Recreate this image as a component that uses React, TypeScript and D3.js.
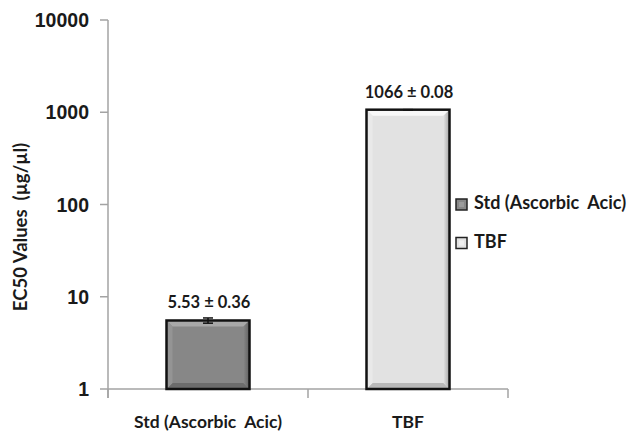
import * as d3 from 'd3'

// chart data
const categories = ['Std (Ascorbic  Acic)', 'TBF']
const values = [5.53, 1066]
const errors = [0.36, 0.08]
const valueLabels = ['5.53 ± 0.36', '1066 ± 0.08']
const yTicks = [1, 10, 100, 1000, 10000]

const BAR_FILL = ['#878787', '#e2e2e2']
const BEVEL = [
  { top: '#a8a8a8', left: '#949494', right: '#606060', bottom: '#6c6c6c' },
  { top: '#f8f8f8', left: '#e9e9e9', right: '#a4a4a4', bottom: '#b8b8b8' },
]

const W = 631
const H = 432
const LABEL_FONT = 'Lato, "Open Sans", sans-serif'

export default function App() {
  const x = d3.scaleBand<string>()
    .domain(categories)
    .range([108, 508])
    .paddingInner(0.585)
    .paddingOuter(0.2925)

  const y = d3.scaleLog()
    .domain([1, 10000])
    .range([389, 20])

  const axisColor = '#a3a3a3'
  const bw = x.bandwidth()
  const b = 6 // bevel width

  return (
    <svg width={W} height={H} style={{ position: 'absolute', left: 0, top: 0, background: '#fff' }}>
      <defs>
        {categories.map((c, i) => (
          <linearGradient key={c} id={`side${i}`} x1="0" x2="1" y1="0" y2="0">
            <stop offset="0" stopColor={BAR_FILL[i]} />
            <stop offset="1" stopColor={BEVEL[i].right} />
          </linearGradient>
        ))}
      </defs>

      {/* y axis */}
      <line x1={108} x2={108} y1={y(10000)} y2={398} stroke={axisColor} strokeWidth={1.5} />
      {yTicks.map(t => (
        <g key={t}>
          <line x1={100} x2={108} y1={y(t)} y2={y(t)} stroke={axisColor} strokeWidth={1.5} />
          <text x={89} y={y(t) + 7} textAnchor="end" fontFamily='"Liberation Sans", Arial, sans-serif'
            fontWeight="bold" fontSize={19.5} fill="#1a1a1a">{t}</text>
        </g>
      ))}

      {/* x axis */}
      <line x1={108} x2={508} y1={389} y2={389} stroke={axisColor} strokeWidth={1.5} />
      {[108, 308, 508].map(v => (
        <line key={v} x1={v} x2={v} y1={389} y2={398} stroke={axisColor} strokeWidth={1.5} />
      ))}
      {categories.map(c => (
        <text key={c} x={x(c)! + bw / 2} y={428} textAnchor="middle" fontFamily={LABEL_FONT}
          fontWeight="bold" fontSize={17.5} fill="#1a1a1a" style={{ whiteSpace: 'pre' }}>{c}</text>
      ))}

      {/* y title */}
      <text transform="rotate(-90)" x={-227} y={27} textAnchor="middle" fontFamily={LABEL_FONT}
        fontWeight="bold" fontSize={18.5} fill="#1a1a1a" style={{ whiteSpace: 'pre' }}>
        {'EC50 Values  (µg/µl)'}
      </text>

      {/* bars */}
      {categories.map((c, i) => {
        const x0 = x(c)!
        const x1 = x0 + bw
        const y0 = y(values[i])
        const y1 = y(1)
        const bv = BEVEL[i]
        return (
          <g key={c}>
            <rect x={x0} y={y0} width={bw} height={y1 - y0} fill={BAR_FILL[i]} />
            <polygon points={`${x0},${y0} ${x1},${y0} ${x1 - b},${y0 + b} ${x0 + b},${y0 + b}`} fill={bv.top} />
            <polygon points={`${x0},${y1} ${x1},${y1} ${x1 - b},${y1 - b} ${x0 + b},${y1 - b}`} fill={bv.bottom} />
            <polygon points={`${x0},${y0} ${x0 + b},${y0 + b} ${x0 + b},${y1 - b} ${x0},${y1}`} fill={bv.left} />
            <polygon points={`${x1},${y0} ${x1 - b},${y0 + b} ${x1 - b},${y1 - b} ${x1},${y1}`} fill={`url(#side${i})`} />
            <rect x={x0} y={y0} width={bw} height={y1 - y0} fill="none" stroke="#111" strokeWidth={2.5} />
          </g>
        )
      })}

      {/* error bars */}
      {categories.map((c, i) => {
        const cx = x(c)! + bw / 2
        const lo = y(values[i] - errors[i])
        const hi = y(values[i] + errors[i])
        return (
          <g key={c} stroke="#111" strokeWidth={1.5}>
            <line x1={cx} x2={cx} y1={hi} y2={lo} />
            <line x1={cx - 5} x2={cx + 5} y1={hi} y2={hi} />
            <line x1={cx - 5} x2={cx + 5} y1={lo} y2={lo} />
          </g>
        )
      })}

      {/* value labels */}
      {categories.map((c, i) => (
        <text key={c} x={x(c)! + bw / 2 + 1} y={y(values[i]) - 12} textAnchor="middle"
          fontFamily={LABEL_FONT} fontWeight="bold" fontSize={16.5} fill="#1a1a1a">{valueLabels[i]}</text>
      ))}

      {/* legend */}
      {categories.map((c, i) => (
        <g key={c} transform={`translate(456,${199 + i * 38.5})`}>
          <rect x={0} y={0} width={11} height={11} fill={BAR_FILL[i]} stroke="#222" strokeWidth={1.5} />
          <rect x={3} y={3} width={5} height={5} fill={BEVEL[i].top} opacity={0.6} />
          <text x={18} y={10} fontFamily={LABEL_FONT} fontWeight="bold" fontSize={18} fill="#1a1a1a"
            style={{ whiteSpace: 'pre' }}>{c}</text>
        </g>
      ))}
    </svg>
  )
}
